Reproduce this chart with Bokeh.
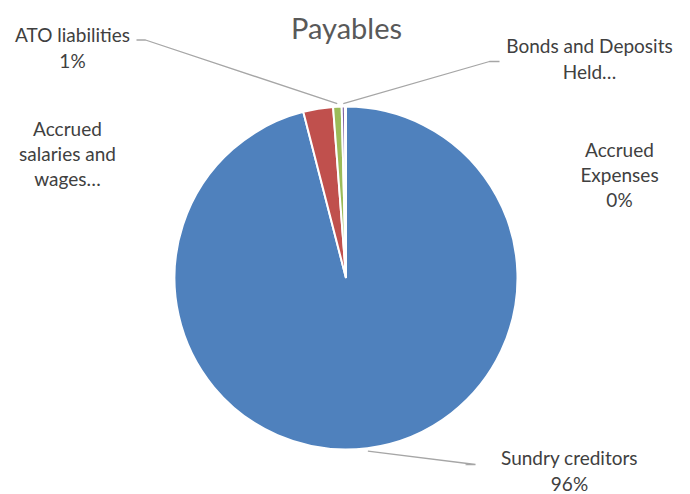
import math
from bokeh.plotting import figure
from bokeh.models import Range1d, ColumnDataSource
from bokeh.core.properties import value
from bokeh.embed import file_html
from bokeh.resources import INLINE

# ---- data ----
categories = ["Sundry creditors", "Accrued salaries and wages", "ATO liabilities",
              "Bonds and Deposits Held", "Accrued Expenses"]
shares = [96.0, 2.8, 0.8, 0.3, 0.1]          # percent of total payables
label_texts = ["Sundry creditors\n96%", "Accrued\nsalaries and\nwages…", "ATO liabilities\n1%",
               "Bonds and Deposits\nHeld…", "Accrued\nExpenses\n0%"]
colors = ["#4F81BD", "#C0504D", "#9BBB59", "#8064A2", "#4BACC6"]

# ---- layout (pixels, y measured downward) ----
W, H = 690, 494
CX, CY, R = 345.5, 277.5, 171.5
label_pos = [(569, 470), (67, 153), (72, 47), (589, 58), (619, 174)]
leader = {0: [(475, 464), (465, 464)], 2: [(145, 39.5), (136, 39.5)], 3: [(489, 61), (499, 61)]}

FONT = "Lato"

p = figure(width=W, height=H, x_range=Range1d(0, W), y_range=Range1d(0, H),
           output_backend="svg", toolbar_location=None, min_border=0)
p.axis.visible = False
p.grid.visible = False
p.outline_line_color = None
p.background_fill_color = "white"
p.border_fill_color = "white"

total = sum(shares)
starts, ends, mids = [], [], []
cum = 0.0
for s in shares:
    a0 = math.pi / 2 - cum / total * 2 * math.pi
    cum += s
    a1 = math.pi / 2 - cum / total * 2 * math.pi
    starts.append(a0)
    ends.append(a1)
    mids.append((a0 + a1) / 2)

src = ColumnDataSource(dict(cat=categories, start=starts, end=ends, color=colors))
p.wedge(x=CX, y=H - CY, radius=R, start_angle="start", end_angle="end",
        direction="clock", fill_color="color", line_color="white", line_width=2, source=src)

# leader lines
for i, pts in leader.items():
    ang = mids[i]
    ex = CX + (R + 3) * math.cos(ang)
    ey = (H - CY) + (R + 3) * math.sin(ang)
    xs = [ex] + [q[0] for q in pts]
    ys = [ey] + [H - q[1] for q in pts]
    p.line(xs, ys, line_color="#A6A6A6", line_width=1.3)

# labels
lsrc = ColumnDataSource(dict(x=[q[0] for q in label_pos], y=[H - q[1] for q in label_pos],
                             t=label_texts))
p.text(x="x", y="y", text="t", source=lsrc, text_align="center", text_baseline="middle",
       text_font=value(FONT), text_font_size="19px", text_color="#404040",
       text_line_height=1.1)

# title
p.text(x=[346], y=[H - 27], text=["Payables"], text_align="center", text_baseline="middle",
       text_font=value(FONT), text_font_size="29px", text_color="#595959")

open("out.html", "w").write(file_html(p, INLINE))
